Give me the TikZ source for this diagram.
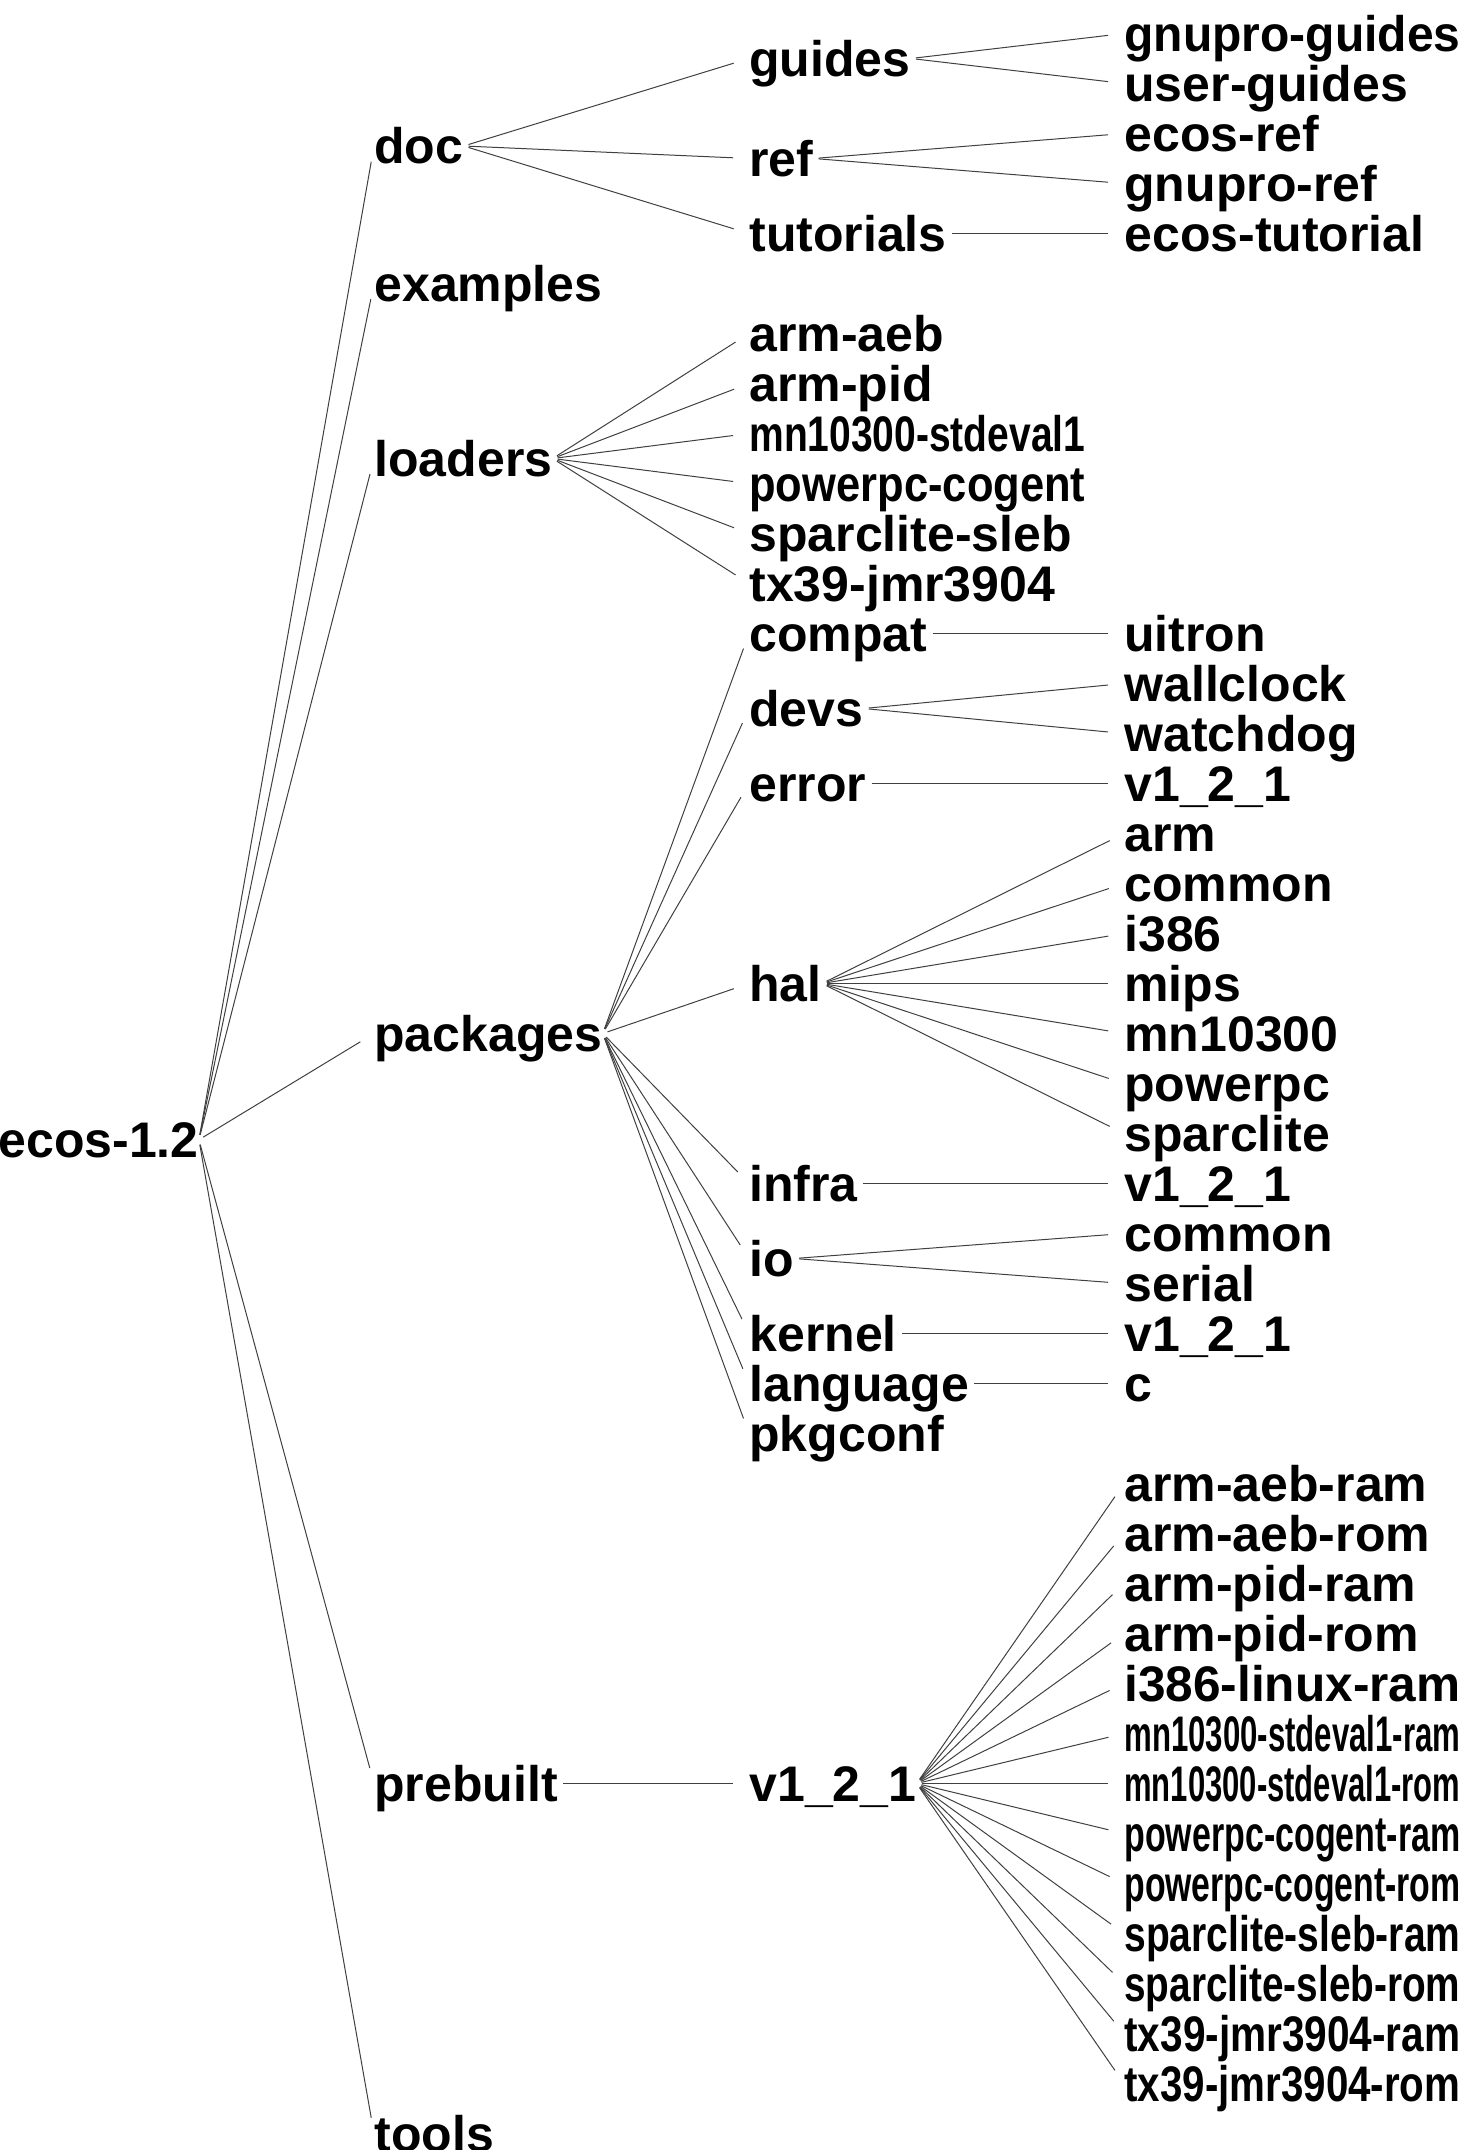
\documentclass[tikz,border=0pt]{standalone}
\usepackage{fontspec}
\setmainfont{Liberation Sans}
\usepackage{graphicx}
\newsavebox\lblbox
\newcommand{\fitlbl}[1]{\sbox\lblbox{#1}\ifdim\wd\lblbox>168pt\resizebox{168pt}{\ht\lblbox}{\usebox\lblbox}\else\usebox\lblbox\fi}
\tikzset{
  dir/.style={anchor=west, inner sep=0pt, text height=17.9pt, text depth=0pt,
    font=\bfseries\fontsize{25}{25}\selectfont},
  branch/.style={draw=black!75, line width=0.5pt, shorten <=2.5pt, shorten >=8pt}
}
\begin{document}
\begin{tikzpicture}[x=0.5pt, y=-25pt, every node/.style={dir}]
      \useasboundingbox (0,-0.67) rectangle (1463,42.33);
      \draw
        (-2,22.125) node (ecos){ecos-1.2}
        (374,2.25) node (doc){doc}
        (374,5) node (examples){examples}
        (374,8.5) node (loaders){loaders}
        (374,20) node (packages){packages}
        (374,35) node (prebuilt){prebuilt}
        (374,42) node (tools){tools}
        (749,0.5) node (guides){guides}
        (749,2.5) node (ref){ref}
        (749,4) node (tutorials){tutorials}
        (749,6) node (ldaeb){arm-aeb}
        (749,7) node (ldpid){arm-pid}
        (749,8) node (ldmn){\fitlbl{mn10300-stdeval1}}
        (749,9) node (ldppc){\fitlbl{powerpc-cogent}}
        (749,10) node (ldsparc){sparclite-sleb}
        (749,11) node (ldtx){tx39-jmr3904}
        (749,12) node (compat){compat}
        (749,13.5) node (devs){devs}
        (749,15) node (error){error}
        (749,19) node (hal){hal}
        (749,23) node (infra){infra}
        (749,24.5) node (io){io}
        (749,26) node (kernel){kernel}
        (749,27) node (language){language}
        (749,28) node (pkgconf){pkgconf}
        (749,35) node (pbver){v1\_2\_1}
        (1124,0) node (gnuguides){\fitlbl{gnupro-guides}}
        (1124,1) node (userguides){user-guides}
        (1124,2) node (ecosref){ecos-ref}
        (1124,3) node (gnuref){gnupro-ref}
        (1124,4) node (ecostut){ecos-tutorial}
        (1124,12) node (uitron){uitron}
        (1124,13) node (wallclock){wallclock}
        (1124,14) node (watchdog){watchdog}
        (1124,15) node (errver){v1\_2\_1}
        (1124,16) node (halarm){arm}
        (1124,17) node (halcommon){common}
        (1124,18) node (hali386){i386}
        (1124,19) node (halmips){mips}
        (1124,20) node (halmn){mn10300}
        (1124,21) node (halppc){powerpc}
        (1124,22) node (halsparc){sparclite}
        (1124,23) node (infraver){v1\_2\_1}
        (1124,24) node (iocommon){common}
        (1124,25) node (ioserial){serial}
        (1124,26) node (kernver){v1\_2\_1}
        (1124,27) node (langc){c}
        (1124,29) node (pbaebram){arm-aeb-ram}
        (1124,30) node (pbaebrom){arm-aeb-rom}
        (1124,31) node (pbpidram){arm-pid-ram}
        (1124,32) node (pbpidrom){arm-pid-rom}
        (1124,33) node (pblinux){\fitlbl{i386-linux-ram}}
        (1124,34) node (pbmnram){\fitlbl{mn10300-stdeval1-ram}}
        (1124,35) node (pbmnrom){\fitlbl{mn10300-stdeval1-rom}}
        (1124,36) node (pbppcram){\fitlbl{powerpc-cogent-ram}}
        (1124,37) node (pbppcrom){\fitlbl{powerpc-cogent-rom}}
        (1124,38) node (pbsparcram){\fitlbl{sparclite-sleb-ram}}
        (1124,39) node (pbsparcrom){\fitlbl{sparclite-sleb-rom}}
        (1124,40) node (pbtxram){\fitlbl{tx39-jmr3904-ram}}
        (1124,41) node (pbtxrom){\fitlbl{tx39-jmr3904-rom}};
      \begin{scope}[branch]
        \draw (ecos.east) to (doc.west);
        \draw (ecos.east) to (examples.west);
        \draw (ecos.east) to (loaders.west);
        \draw (ecos.east) to (packages.west);
        \draw (ecos.east) to (prebuilt.west);
        \draw (ecos.east) to (tools.west);
        \draw (doc.east) to (guides.west);
        \draw (doc.east) to (ref.west);
        \draw (doc.east) to (tutorials.west);
        \draw (guides.east) to (gnuguides.west);
        \draw (guides.east) to (userguides.west);
        \draw (ref.east) to (ecosref.west);
        \draw (ref.east) to (gnuref.west);
        \draw (tutorials.east) to (ecostut.west);
        \draw (loaders.east) to (ldaeb.west);
        \draw (loaders.east) to (ldpid.west);
        \draw (loaders.east) to (ldmn.west);
        \draw (loaders.east) to (ldppc.west);
        \draw (loaders.east) to (ldsparc.west);
        \draw (loaders.east) to (ldtx.west);
        \draw (packages.east) to (compat.west);
        \draw (packages.east) to (devs.west);
        \draw (packages.east) to (error.west);
        \draw (packages.east) to (hal.west);
        \draw (packages.east) to (infra.west);
        \draw (packages.east) to (io.west);
        \draw (packages.east) to (kernel.west);
        \draw (packages.east) to (language.west);
        \draw (packages.east) to (pkgconf.west);
        \draw (compat.east) to (uitron.west);
        \draw (devs.east) to (wallclock.west);
        \draw (devs.east) to (watchdog.west);
        \draw (error.east) to (errver.west);
        \draw (hal.east) to (halarm.west);
        \draw (hal.east) to (halcommon.west);
        \draw (hal.east) to (hali386.west);
        \draw (hal.east) to (halmips.west);
        \draw (hal.east) to (halmn.west);
        \draw (hal.east) to (halppc.west);
        \draw (hal.east) to (halsparc.west);
        \draw (infra.east) to (infraver.west);
        \draw (io.east) to (iocommon.west);
        \draw (io.east) to (ioserial.west);
        \draw (kernel.east) to (kernver.west);
        \draw (language.east) to (langc.west);
        \draw (prebuilt.east) to (pbver.west);
        \draw (pbver.east) to (pbaebram.west);
        \draw (pbver.east) to (pbaebrom.west);
        \draw (pbver.east) to (pbpidram.west);
        \draw (pbver.east) to (pbpidrom.west);
        \draw (pbver.east) to (pblinux.west);
        \draw (pbver.east) to (pbmnram.west);
        \draw (pbver.east) to (pbmnrom.west);
        \draw (pbver.east) to (pbppcram.west);
        \draw (pbver.east) to (pbppcrom.west);
        \draw (pbver.east) to (pbsparcram.west);
        \draw (pbver.east) to (pbsparcrom.west);
        \draw (pbver.east) to (pbtxram.west);
        \draw (pbver.east) to (pbtxrom.west);
      \end{scope}
    \end{tikzpicture}
\end{document}
